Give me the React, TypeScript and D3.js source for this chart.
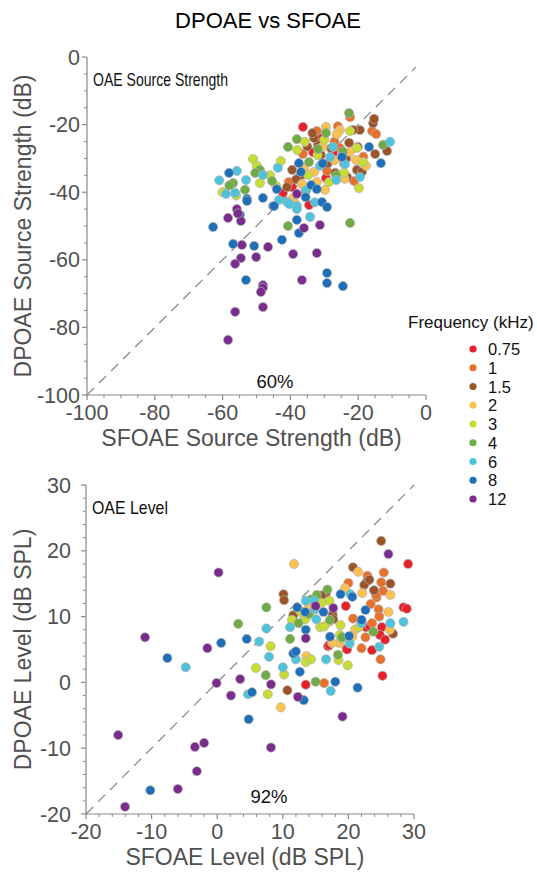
import React from "react";
import * as d3 from "d3";

const freqLabels = ["0.75", "1", "1.5", "2", "3", "4", "6", "8", "12"];
const freqColors = ["#e8202a", "#e8702a", "#9c5327", "#fdc150", "#c8dc32", "#6fac45", "#4fc3dc", "#1c6fb8", "#7a2c8c"];

// Top panel: SFOAE vs DPOAE source strength (dB)
const src075 = [[-36.3,-20.7],[-31.6,-24.0],[-33.3,-28.2],[-29.5,-35.8],[-42.2,-40.2],[-34.5,-43.8],[-27.4,-28.4],[-39.5,-38.5]];
const src1 = [[-22.4,-17.8],[-32.2,-21.9],[-15.9,-21.9],[-14.7,-22.8],[-36.3,-28.7],[-35.7,-39.9],[-21.2,-36.7],[-25.4,-26.9],[-29.2,-33.7],[-24.2,-31.5],[-40.5,-37.0],[-27.0,-25.0],[-26.0,-20.5],[-18.5,-29.5]];
const src15 = [[-15.6,-19.6],[-15.3,-18.3],[-19.5,-21.6],[-31.9,-26.0],[-22.7,-25.4],[-20.1,-26.6],[-11.5,-27.8],[-15.0,-28.7],[-39.5,-33.4],[-20.4,-33.4],[-18.9,-34.0],[-26.8,-34.3],[-23.3,-35.5],[-21.5,-21.6],[-33.0,-24.0],[-31.0,-29.0],[-35.0,-26.5],[-29.0,-31.5],[-23.5,-30.0],[-41.0,-38.5],[-37.0,-35.0],[-38.3,-36.2],[-33.5,-22.5],[-28.0,-27.0]];
const src2 = [[-29.5,-20.7],[-25.4,-21.6],[-26.3,-22.8],[-22.4,-28.1],[-20.6,-30.5],[-17.7,-32.2],[-32.2,-37.0],[-36.6,-37.6],[-29.8,-39.3],[-39.2,-41.7],[-33.0,-34.0],[-27.0,-30.5],[-36.0,-33.0],[-24.0,-36.0],[-30.5,-26.5],[-38.5,-43.5]];
const src3 = [[-35.7,-25.1],[-22.4,-21.9],[-20.4,-26.9],[-18.6,-31.1],[-19.8,-38.8],[-51.0,-30.2],[-49.9,-32.2],[-49.0,-37.3],[-42.8,-30.8],[-44.2,-38.2],[-32.0,-29.0],[-28.6,-37.0],[-34.8,-34.9],[-24.2,-34.3],[-35.4,-39.3],[-46.0,-35.0],[-56.0,-41.0],[-60.0,-40.0],[-30.0,-24.5],[-38.0,-27.5]];
const src4 = [[-22.7,-16.6],[-29.5,-22.5],[-38.1,-24.3],[-40.7,-26.6],[-12.7,-26.0],[-31.9,-27.2],[-34.5,-31.1],[-49.0,-33.4],[-50.4,-34.3],[-56.9,-37.3],[-53.4,-39.3],[-45.4,-36.7],[-40.7,-50.0],[-22.4,-49.1],[-26.5,-35.0],[-58.0,-38.0],[-24.5,-28.0]];
const src6 = [[-27.4,-26.6],[-10.6,-25.1],[-28.3,-29.6],[-31.3,-32.2],[-23.9,-31.7],[-19.5,-35.5],[-26.5,-36.4],[-43.7,-32.8],[-48.1,-34.9],[-55.8,-33.7],[-53.1,-36.4],[-59.0,-40.5],[-56.3,-40.2],[-43.4,-42.3],[-41.0,-42.9],[-38.1,-44.1],[-34.2,-47.3],[-35.4,-39.5],[-38.1,-45.0],[-40.3,-43.5],[-32.8,-43.0],[-61.0,-36.5]];
const src8 = [[-16.8,-26.6],[-13.3,-31.4],[-24.8,-29.6],[-37.5,-31.4],[-36.9,-34.0],[-33.9,-37.9],[-32.2,-39.1],[-44.0,-39.1],[-48.1,-41.7],[-52.8,-42.0],[-45.1,-44.1],[-30.7,-42.9],[-29.2,-44.4],[-54.9,-46.7],[-62.8,-50.3],[-52.8,-42.6],[-44.8,-44.1],[-38.1,-48.2],[-37.5,-52.1],[-56.9,-55.3],[-50.7,-55.9],[-42.5,-54.1],[-53.1,-66.0],[-29.2,-63.9],[-29.2,-66.9],[-24.5,-67.8],[-58.1,-34.3],[-30.5,-31.5],[-35.5,-41.5]];
const src12 = [[-38.1,-40.5],[-55.8,-45.0],[-58.4,-47.6],[-54.6,-48.5],[-36.0,-50.6],[-31.3,-49.7],[-54.3,-55.6],[-46.6,-56.2],[-39.2,-58.3],[-32.2,-58.0],[-54.6,-59.5],[-56.3,-61.2],[-50.1,-59.2],[-48.1,-67.5],[-48.1,-68.3],[-48.7,-69.5],[-36.6,-66.0],[-48.1,-74.0],[-56.3,-75.4],[-58.4,-83.7],[-55.5,-46.3]];

// Bottom panel: SFOAE vs DPOAE level (dB SPL)
const lvl075 = [[29.1,18.0],[19.6,11.6],[28.4,11.4],[28.9,11.2],[16.9,5.5],[19.7,5.1],[23.6,4.9],[25.2,1.0],[22.7,8.4],[25.1,8.4],[24.8,7.2],[25.6,6.5],[13.5,-0.35],[19.8,5.0],[17.1,5.7],[15.7,12.3],[23.3,8.5]];
const lvl1 = [[25.4,16.7],[22.9,16.2],[20.0,15.1],[25.0,15.2],[25.3,13.9],[24.3,12.9],[23.4,11.9],[22.0,5.2],[24.9,3.5],[22.6,6.85],[23.6,9.0],[20.7,9.7],[24.6,11.1],[24.7,10.0],[16.3,-0.1],[24.2,13.3]];
const lvl15 = [[25.0,21.5],[20.7,17.5],[22.8,15.3],[22.4,14.8],[26.4,15.0],[23.9,14.0],[16.6,13.6],[10.1,13.4],[10.2,12.5],[11.6,10.2],[17.6,10.3],[17.7,9.6],[26.8,7.4],[10.7,-1.2],[15.9,13.2],[23.2,15.6]];
const lvl2 = [[11.7,18.0],[21.5,16.8],[19.5,14.3],[22.1,13.6],[26.1,10.7],[26.4,13.3],[26.3,8.0],[21.0,8.0],[18.6,6.0],[17.1,9.2],[13.6,4.0],[9.7,-3.8],[20.6,7.0],[14.0,11.7],[17.5,6.0]];
const lvl3 = [[5.9,2.2],[8.15,5.5],[10.2,1.2],[7.7,-1.8],[18.5,3.4],[19.9,2.6],[13.5,3.1],[14.3,3.5],[17.1,12.4],[15.9,12.1],[13.4,9.6],[11.4,9.5],[15.7,8.4],[18.8,8.7],[16.3,8.5],[21.6,8.4],[18.7,7.2],[19.1,6.7],[13.0,10.5],[12.5,11.0]];
const lvl4 = [[3.2,8.9],[7.4,1.1],[15.0,0.1],[18.4,4.2],[16.8,14.1],[15.2,13.3],[7.5,11.4],[14.0,10.4],[17.2,9.5],[11.1,6.6],[19.0,6.85],[23.8,7.7],[14.3,12.6],[12.4,9.0]];
const lvl6 = [[6.4,6.2],[-4.8,2.3],[4.7,-1.8],[7.9,3.9],[10.0,2.3],[17.3,-1.3],[24.7,5.4],[16.6,3.5],[12.0,3.5],[20.3,13.4],[13.5,12.4],[14.8,12.4],[15.1,9.6],[11.1,8.4],[7.5,8.2],[22.0,9.0],[26.4,9.0],[28.4,9.2],[20.2,5.9],[14.9,11.1]];
const lvl8 = [[0.6,6.0],[4.5,6.6],[-7.6,3.7],[5.3,-1.5],[4.8,-5.6],[13.2,-2.7],[12.6,1.6],[11.6,4.4],[18.0,0.1],[21.4,-0.8],[18.8,13.4],[22.6,11.0],[16.2,10.7],[13.4,10.7],[13.5,8.0],[17.2,6.95],[20.1,7.05],[22.0,9.5],[12.0,4.7],[-10.2,-16.4],[20.6,13.0],[12.2,11.4]];
const lvl12 = [[0.2,16.7],[-11.0,6.85],[-1.5,5.2],[-0.1,-0.1],[3.5,0.5],[2.1,-2.0],[8.2,-0.3],[12.3,-2.2],[8.2,-9.9],[19.1,-5.2],[26.1,19.5],[15.0,11.6],[17.7,11.3],[13.5,6.7],[-14.05,-18.9],[-6.0,-16.2],[-3.4,-9.8],[-2.0,-9.2],[-3.1,-13.5],[-15.1,-8.0]];

const srcSeries = [src075, src1, src15, src2, src3, src4, src6, src8, src12];
const lvlSeries = [lvl075, lvl1, lvl15, lvl2, lvl3, lvl4, lvl6, lvl8, lvl12];

const srcTicks = [-100, -80, -60, -40, -20, 0];
const lvlTicks = [-20, -10, 0, 10, 20, 30];

const FONT = "'Liberation Sans', Arial, Helvetica, sans-serif";
const AXIS_COLOR = "#8a8a8a";
const TEXT_GRAY = "#505050";

type PanelProps = {
  series: number[][][];
  domain: [number, number];
  xRange: [number, number];
  yRange: [number, number];
  ticks: number[];
  minorStep: number;
  diagEnd: number;
  xTitle: string;
  yTitle: string;
  inset: string;
  insetWidth: number;
  pct: string;
  pctPos: [number, number];
  yLabelEnd: number;
};

function Panel(p: PanelProps) {
  const x = d3.scaleLinear().domain(p.domain).range(p.xRange);
  const y = d3.scaleLinear().domain(p.domain).range(p.yRange);
  const minor = d3.range(p.domain[0], p.domain[1] + 0.001, p.minorStep).filter((v) => !p.ticks.includes(Math.round(v * 1000) / 1000));
  const x0 = p.xRange[0];
  const y0 = p.yRange[0];
  const line = d3.line<number>().x((v) => x(v)).y((v) => y(v));
  return (
    <g>
      <path d={line([p.domain[0], p.diagEnd]) || ""} stroke="#8c8c8c" strokeWidth={1.3} strokeDasharray="10,7" fill="none" />
      <line x1={x0} x2={p.xRange[1]} y1={y0} y2={y0} stroke={AXIS_COLOR} strokeWidth={1.2} />
      <line x1={x0} x2={x0} y1={y0} y2={p.yRange[1]} stroke={AXIS_COLOR} strokeWidth={1.2} />
      {p.ticks.map((t) => (
        <g key={"xt" + t}>
          <line x1={x(t)} x2={x(t)} y1={y0} y2={y0 + 5} stroke={AXIS_COLOR} strokeWidth={1.2} />
          <text x={x(t)} y={y0 + 25} textAnchor="middle" fontSize={21.5} fill={TEXT_GRAY} fontFamily={FONT}>{t}</text>
        </g>
      ))}
      {minor.map((t) => (
        <line key={"xm" + t} x1={x(t)} x2={x(t)} y1={y0} y2={y0 + 3} stroke={AXIS_COLOR} strokeWidth={1} />
      ))}
      {p.ticks.map((t) => (
        <g key={"yt" + t}>
          <line x1={x0 - 5} x2={x0} y1={y(t)} y2={y(t)} stroke={AXIS_COLOR} strokeWidth={1.2} />
          <text x={p.yLabelEnd} y={y(t) + 7.5} textAnchor="end" fontSize={21.5} fill={TEXT_GRAY} fontFamily={FONT}>{t}</text>
        </g>
      ))}
      {minor.map((t) => (
        <line key={"ym" + t} x1={x0 - 3} x2={x0} y1={y(t)} y2={y(t)} stroke={AXIS_COLOR} strokeWidth={1} />
      ))}
      <text x={(p.xRange[0] + p.xRange[1]) / 2 - 5} y={y0 + 51} textAnchor="middle" fontSize={23} fill={TEXT_GRAY} fontFamily={FONT}>{p.xTitle}</text>
      <text transform={`translate(31,${(p.yRange[0] + p.yRange[1]) / 2}) rotate(-90)`} textAnchor="middle" fontSize={23} fill={TEXT_GRAY} fontFamily={FONT}>{p.yTitle}</text>
      <text x={x0 + 6} y={p.yRange[1] + 29} fontSize={18.5} fill="#111" fontFamily={FONT} textLength={p.insetWidth} lengthAdjust="spacingAndGlyphs">{p.inset}</text>
      <text x={p.pctPos[0]} y={p.pctPos[1]} textAnchor="middle" fontSize={18.5} fill="#111" fontFamily={FONT}>{p.pct}</text>
      {p.series.map((pts, i) => (
        <g key={"s" + i}>
          {pts.map((d, j) => (
            <circle key={j} cx={x(d[0])} cy={y(d[1])} r={4.6} fill={freqColors[i]} stroke="#b0b0b0" strokeWidth={0.7} />
          ))}
        </g>
      ))}
    </g>
  );
}

export default function App() {
  return (
    <svg width={537} height={876} style={{ position: "absolute", left: 0, top: 0, background: "#fff" }}>
      <rect width={537} height={876} fill="#fff" />
      <text x={268} y={28} textAnchor="middle" fontSize={22} fill="#000" fontFamily={FONT}>DPOAE vs SFOAE</text>
      <Panel
        series={srcSeries}
        domain={[-100, 0]}
        xRange={[87, 426]}
        yRange={[395, 57]}
        ticks={srcTicks}
        minorStep={5}
        diagEnd={-3}
        xTitle="SFOAE Source Strength (dB)"
        yTitle="DPOAE Source Strength (dB)"
        inset="OAE Source Strength"
        insetWidth={135}
        pct="60%"
        pctPos={[275, 388]}
        yLabelEnd={80}
      />
      <Panel
        series={lvlSeries}
        domain={[-20, 30]}
        xRange={[86, 414]}
        yRange={[814, 485]}
        ticks={lvlTicks}
        minorStep={2}
        diagEnd={30}
        xTitle="SFOAE Level (dB SPL)"
        yTitle="DPOAE Level (dB SPL)"
        inset="OAE Level"
        insetWidth={76}
        pct="92%"
        pctPos={[269, 803]}
        yLabelEnd={71}
      />
      <text x={408} y={328} fontSize={17} fill="#111" fontFamily={FONT}>Frequency (kHz)</text>
      {freqLabels.map((f, i) => (
        <g key={f}>
          <circle cx={473} cy={349 + i * 18.75} r={3.6} fill={freqColors[i]} />
          <text x={488} y={349 + i * 18.75 + 6} fontSize={16.5} fill="#111" fontFamily={FONT}>{f}</text>
        </g>
      ))}
    </svg>
  );
}
